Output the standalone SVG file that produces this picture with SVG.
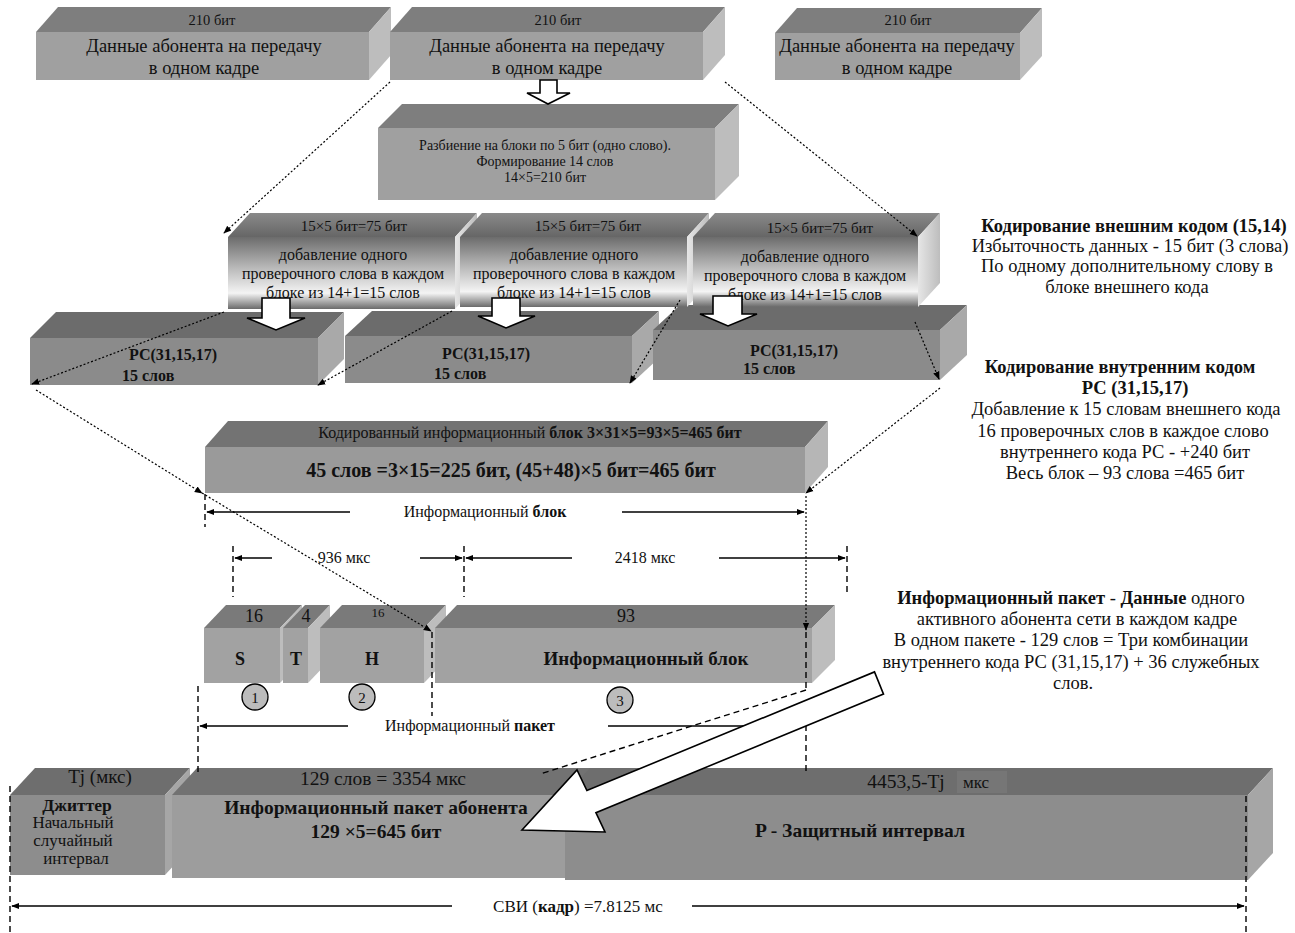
<svg xmlns="http://www.w3.org/2000/svg" width="1295" height="933" viewBox="0 0 1295 933">
<defs>
<linearGradient id="gFront" x1="0" y1="0" x2="0" y2="1">
<stop offset="0" stop-color="#6c6c6c"/>
<stop offset="0.4" stop-color="#b4b4b4"/>
<stop offset="0.78" stop-color="#f4f4f4"/>
<stop offset="1" stop-color="#6a6a6a"/>
</linearGradient>
<linearGradient id="gTop" x1="0" y1="0" x2="0" y2="1">
<stop offset="0" stop-color="#8a8a8a"/>
<stop offset="1" stop-color="#666"/>
</linearGradient>
<linearGradient id="gSide" x1="0" y1="0" x2="1" y2="0">
<stop offset="0" stop-color="#e6e6e6"/>
<stop offset="1" stop-color="#bdbdbd"/>
</linearGradient>
<marker id="ah" viewBox="0 0 10 10" refX="9" refY="5" markerWidth="8" markerHeight="8" markerUnits="userSpaceOnUse" orient="auto">
<path d="M0,1 L10,5 L0,9 Z" fill="#000"/>
</marker>
</defs>
<style>
text{font-family:"Liberation Serif","Times New Roman",serif;fill:#111;}
.c{text-anchor:middle;}
.b{font-weight:bold;}
.f1{fill:#a0a0a0;} .t1{fill:#7e7e7e;} .s1{fill:#bdbdbd;}
.f2{fill:url(#gFront);} .t2{fill:url(#gTop);} .s2{fill:url(#gSide);}
.f3{fill:#8b8b8b;} .t3{fill:#6c6c6c;} .s3{fill:#a9a9a9;}
.f4{fill:#9a9a9a;} .t4{fill:#737373;} .s4{fill:#b6b6b6;}
.f5{fill:#a2a2a2;} .t5{fill:#7a7a7a;} .s5{fill:#bdbdbd;}
.f6{fill:#8d8d8d;} .t6{fill:#6e6e6e;} .s6{fill:#a6a6a6;}
.f7{fill:#9d9d9d;} .t7{fill:#727272;}
.arr{fill:#fff;stroke:#000;stroke-width:1.6;stroke-linejoin:miter;}
.dot{fill:none;stroke:#000;stroke-width:1.2;stroke-dasharray:2 2;}
.dash{fill:none;stroke:#000;stroke-width:1.4;stroke-dasharray:6 4;}
.dim{fill:none;stroke:#000;stroke-width:1.6;}
.circ{fill:#bcbcbc;stroke:#000;stroke-width:1.3;}
.note{font-size:18.5px;}
.tb{font-size:18.5px;}
</style>

<!-- Top row -->
<g id="top1">
<polygon class="t1" points="36,32 58,7 391,7 369,32"/>
<polygon class="s1" points="369,32 391,7 391,55 369,80"/>
<rect class="f1" x="36" y="32" width="333" height="48"/>
<text class="c" x="212" y="25" font-size="14.5">210 бит</text>
<text class="c tb" x="204" y="52">Данные абонента на передачу</text>
<text class="c tb" x="204" y="74">в одном кадре</text>
</g>
<g id="top2">
<polygon class="t1" points="390,32 412,7 725,7 703,32"/>
<polygon class="s1" points="703,32 725,7 725,55 703,80"/>
<rect class="f1" x="390" y="32" width="313" height="48"/>
<text class="c" x="558" y="25" font-size="14.5">210 бит</text>
<text class="c tb" x="547" y="52">Данные абонента на передачу</text>
<text class="c tb" x="547" y="74">в одном кадре</text>
</g>
<g id="top3">
<polygon class="t1" points="775,33 797,8 1042,8 1020,33"/>
<polygon class="s1" points="1020,33 1042,8 1042,56 1020,80"/>
<rect class="f1" x="775" y="33" width="245" height="47"/>
<text class="c" x="908" y="25" font-size="14.5">210 бит</text>
<text class="c tb" x="897" y="52">Данные абонента на передачу</text>
<text class="c tb" x="897" y="74">в одном кадре</text>
</g>

<g id="split">
<polygon class="t1" points="378,128 402,104 739,104 715,128"/>
<polygon class="s1" points="715,128 739,104 739,176 715,200"/>
<rect class="f1" x="378" y="128" width="337" height="72"/>
<text class="c" x="545" y="150" font-size="14">Разбиение на блоки по 5 бит (одно слово).</text>
<text class="c" x="545" y="166" font-size="14">Формирование   14 слов</text>
<text class="c" x="545" y="182" font-size="14">14×5=210  бит</text>
</g>

<!-- Row 3 (behind row 2) -->
<g id="rs1">
<polygon class="t3" points="30,338 56,312 344,312 318,338"/>
<polygon class="s3" points="318,338 344,312 344,359 318,385"/>
<rect class="f3" x="30" y="338" width="288" height="47"/>
<text class="b" x="129" y="360" font-size="16">РС(31,15,17)</text>
<text class="b" x="122" y="381" font-size="16">15 слов</text>
</g>
<g id="rs2">
<polygon class="t3" points="345,336 372,311 659,311 632,336"/>
<polygon class="s3" points="632,336 659,311 659,358 632,383"/>
<rect class="f3" x="345" y="336" width="287" height="47"/>
<text class="b" x="442" y="359" font-size="16">РС(31,15,17)</text>
<text class="b" x="434" y="379" font-size="16">15 слов</text>
</g>
<g id="rs3">
<polygon class="t3" points="653,330 680,305 967,305 940,330"/>
<polygon class="s3" points="940,330 967,305 967,355 940,380"/>
<rect class="f3" x="653" y="330" width="287" height="50"/>
<text class="b" x="750" y="356" font-size="16">РС(31,15,17)</text>
<text class="b" x="743" y="374" font-size="16">15 слов</text>
</g>

<!-- Row 2 -->
<g id="outer1">
<polygon class="t2" points="228,237 250,213 477,213 455,237"/>
<polygon class="s2" points="455,237 477,213 477,285 455,309"/>
<rect class="f2" x="228" y="237" width="227" height="72"/>
<text class="c" x="354" y="231" font-size="15">15×5 бит=75 бит</text>
<text class="c" x="343" y="260" font-size="16">добавление одного</text>
<text class="c" x="343" y="279" font-size="16">проверочного слова в каждом</text>
<text class="c" x="343" y="298" font-size="16">блоке из 14+1=15 слов</text>
</g>
<g id="outer2">
<polygon class="t2" points="460,237 482,213 709,213 687,237"/>
<polygon class="s2" points="687,237 709,213 709,283 687,307"/>
<rect class="f2" x="460" y="237" width="227" height="70"/>
<text class="c" x="588" y="231" font-size="15">15×5 бит=75 бит</text>
<text class="c" x="574" y="260" font-size="16">добавление одного</text>
<text class="c" x="574" y="279" font-size="16">проверочного слова в каждом</text>
<text class="c" x="574" y="298" font-size="16">блоке из 14+1=15 слов</text>
</g>
<g id="outer3">
<polygon class="t2" points="693,237 715,213 940,213 918,237"/>
<polygon class="s2" points="918,237 940,213 940,283 918,307"/>
<rect class="f2" x="693" y="237" width="225" height="70"/>
<text class="c" x="820" y="233" font-size="15">15×5 бит=75 бит</text>
<text class="c" x="805" y="262" font-size="16">добавление одного</text>
<text class="c" x="805" y="281" font-size="16">проверочного слова в каждом</text>
<text class="c" x="805" y="300" font-size="16">блоке из 14+1=15 слов</text>
</g>

<!-- Coded block -->
<g id="coded">
<polygon class="t4" points="205,447 228,421 828,421 805,447"/>
<polygon class="s4" points="805,447 828,421 828,467 805,493"/>
<rect class="f4" x="205" y="447" width="600" height="46"/>
<text class="c" x="530" y="438" font-size="16">Кодированный  информационный  <tspan class="b">блок 3×31×5=93×5=465 бит</tspan></text>
<text class="c b" x="511" y="477" font-size="20">45 слов =3×15=225 бит,  (45+48)×5 бит=465 бит</text>
</g>

<!-- Packet row -->
<g id="pS">
<polygon class="t5" points="204,628 226,605 302,605 280,628"/>
<polygon class="s5" points="280,628 302,605 302,660 280,683"/>
<rect class="f5" x="204" y="628" width="76" height="55"/>
<text class="c" x="254" y="622" font-size="18">16</text>
<text class="c b" x="240" y="665" font-size="18">S</text>
</g>
<g id="pT">
<polygon class="t5" points="283,628 305,605 330,605 308,628"/>
<polygon class="s5" points="308,628 330,605 330,660 308,683"/>
<rect class="f5" x="283" y="628" width="25" height="55"/>
<text class="c" x="306" y="622" font-size="18">4</text>
<text class="c b" x="296" y="665" font-size="18">T</text>
</g>
<g id="pH">
<polygon class="t5" points="320,628 342,605 446,605 424,628"/>
<polygon class="s5" points="424,628 446,605 446,660 424,683"/>
<rect class="f5" x="320" y="628" width="104" height="55"/>
<text class="c" x="378" y="617" font-size="13">16</text>
<text class="c b" x="372" y="665" font-size="18">H</text>
</g>
<g id="pInfo">
<polygon class="t5" points="435,628 457,605 835,605 812,628"/>
<polygon class="s5" points="812,628 835,605 835,660 812,683"/>
<rect class="f5" x="435" y="628" width="377" height="55"/>
<text class="c" x="626" y="622" font-size="18">93</text>
<text class="c b" x="646" y="665" font-size="19">Информационный блок</text>
</g>
<g id="n1"><circle class="circ" cx="255" cy="697" r="13"/><text class="c" x="255" y="703" font-size="15">1</text></g>
<g id="n2"><circle class="circ" cx="362" cy="697" r="13"/><text class="c" x="362" y="703" font-size="15">2</text></g>
<g id="n3"><circle class="circ" cx="620" cy="700" r="13"/><text class="c" x="620" y="706" font-size="15">3</text></g>

<!-- Bottom row -->
<g id="jitter">
<polygon class="t6" points="10,795 35,768 190,768 165,795"/>
<polygon class="s6" points="165,795 190,768 190,848 165,875"/>
<rect class="f6" x="10" y="795" width="155" height="80"/>
<text class="c" x="100" y="783" font-size="19">Tj (мкс)</text>
<text class="c b" x="77" y="811" font-size="17.5">Джиттер</text>
<text class="c" x="73" y="828" font-size="17">Начальный</text>
<text class="c" x="73" y="846" font-size="17">случайный</text>
<text class="c" x="76" y="864" font-size="17">интервал</text>
</g>
<g id="packet">
<polygon class="t7" points="172,795 197,768 593,768 568,795"/>
<rect class="f7" x="172" y="795" width="396" height="83"/>
<text class="c" x="383" y="785" font-size="19.5">129 слов = 3354 мкс</text>
<text class="c b" x="376" y="814" font-size="19.5">Информационный пакет абонента</text>
<text class="c b" x="376" y="838" font-size="19.5">129 ×5=645 бит</text>
</g>
<g id="guard">
<polygon class="t6" points="565,795 590,768 1273,768 1248,795"/>
<rect x="957" y="771" width="50" height="22" fill="#767676"/>
<polygon class="s6" points="1248,795 1273,768 1273,853 1248,880"/>
<rect class="f6" x="565" y="795" width="683" height="85"/>
<text class="c" x="906" y="788" font-size="19.5">4453,5-Tj</text>
<text class="c" x="976" y="788" font-size="17">мкс</text>
<text class="c b" x="860" y="837" font-size="19.5">P - Защитный интервал</text>
</g>

<!-- Right annotations -->
<g id="note1">
<text class="c b note" x="1134" y="232">Кодирование внешним кодом (15,14)</text>
<text class="c note" x="1130" y="252">Избыточность данных - 15 бит (3 слова)</text>
<text class="c note" x="1127" y="272">По одному дополнительному слову в</text>
<text class="c note" x="1127" y="293">блоке внешнего кода</text>
</g>
<g id="note2">
<text class="c b note" x="1120" y="373">Кодирование внутренним кодом</text>
<text class="c b note" x="1135" y="394">РС (31,15,17)</text>
<text class="c note" x="1126" y="415">Добавление к 15 словам внешнего кода</text>
<text class="c note" x="1123" y="437">16 проверочных слов в каждое слово</text>
<text class="c note" x="1125" y="458">внутреннего кода РС - +240 бит</text>
<text class="c note" x="1125" y="479">Весь блок – 93 слова =465 бит</text>
</g>
<g id="note3">
<text class="c note" x="1071" y="604"><tspan class="b">Информационный пакет</tspan> - <tspan class="b">Данные</tspan> одного</text>
<text class="c note" x="1077" y="625">активного абонента сети в каждом кадре</text>
<text class="c note" x="1071" y="646">В одном пакете - 129 слов = Три комбинации</text>
<text class="c note" x="1071" y="668">внутреннего кода РС (31,15,17)  + 36 служебных</text>
<text class="c note" x="1073" y="689">слов.</text>
</g>

<!-- Connectors -->
<g id="connectors">
<path class="arr" d="M540,80 L557,80 L557,93 L570,93 L548,104 L527,93 L540,93 Z"/>
<path class="arr" d="M262,298 L290,298 L290,318 L305,318 L276,330 L247,318 L262,318 Z"/>
<path class="arr" d="M492,298 L520,298 L520,316 L535,316 L506,328 L478,316 L492,316 Z"/>
<path class="arr" d="M713,296 L742,296 L742,314 L757,314 L728,326 L700,314 L713,314 Z"/>

<path class="dot" d="M390,82 L224,233" marker-end="url(#ah)"/>
<path class="dot" d="M725,82 L917,236" marker-end="url(#ah)"/>
<path class="dot" d="M224,312 L32,384" marker-end="url(#ah)"/>
<path class="dot" d="M452,311 L318,385" marker-end="url(#ah)"/>
<path class="dot" d="M680,300 L630,383" marker-end="url(#ah)"/>
<path class="dot" d="M915,322 L939,379" marker-end="url(#ah)"/>
<path class="dot" d="M36,390 L202,493" marker-end="url(#ah)"/>
<path class="dot" d="M940,388 L806,493" marker-end="url(#ah)"/>
<path class="dot" d="M202,493 L431,631" marker-end="url(#ah)"/>
<path class="dot" d="M806,496 L806,630" marker-end="url(#ah)"/>

<path class="dash" d="M205,494 L205,527"/>
<path class="dash" d="M233,546 L233,597"/>
<path class="dash" d="M464,546 L464,597"/>
<path class="dash" d="M847,546 L847,596"/>
<path class="dash" d="M806,632 L806,692"/>
<path class="dash" d="M806,715 L806,772"/>
<path class="dash" d="M432,632 L432,716"/>
<path class="dash" d="M198,686 L198,772"/>
<path class="dash" d="M10,786 L10,932"/>
<path class="dash" d="M1246,796 L1246,932"/>
<path class="dash" d="M806,690 L540,774"/>

<path class="dim" d="M350,512 L207,512" marker-end="url(#ah)"/>
<path class="dim" d="M622,512 L804,512" marker-end="url(#ah)"/>
<path class="dim" d="M272,558 L235,558" marker-end="url(#ah)"/>
<path class="dim" d="M420,558 L462,558" marker-end="url(#ah)"/>
<path class="dim" d="M572,558 L466,558" marker-end="url(#ah)"/>
<path class="dim" d="M719,558 L845,558" marker-end="url(#ah)"/>
<path class="dim" d="M348,726 L200,726" marker-end="url(#ah)"/>
<path class="dim" d="M608,726 L770,726"/>
<path class="dim" d="M452,906 L12,906" marker-end="url(#ah)"/>
<path class="dim" d="M692,906 L1244,906" marker-end="url(#ah)"/>

<path class="arr" d="M874.5,671.9 L883.5,694.1 L595.9,812.7 L605,832 L522,830 L577,770 L586.9,790.5 Z"/>
</g>

<text class="c" x="485" y="517" font-size="16">Информационный  <tspan class="b">блок</tspan></text>
<text class="c" x="344" y="563" font-size="16">936 мкс</text>
<text class="c" x="645" y="563" font-size="16">2418 мкс</text>
<text class="c" x="470" y="731" font-size="16">Информационный  <tspan class="b">пакет</tspan></text>
<text class="c" x="578" y="912" font-size="17">СВИ (<tspan class="b">кадр</tspan>) =7.8125 мс</text>
</svg>
